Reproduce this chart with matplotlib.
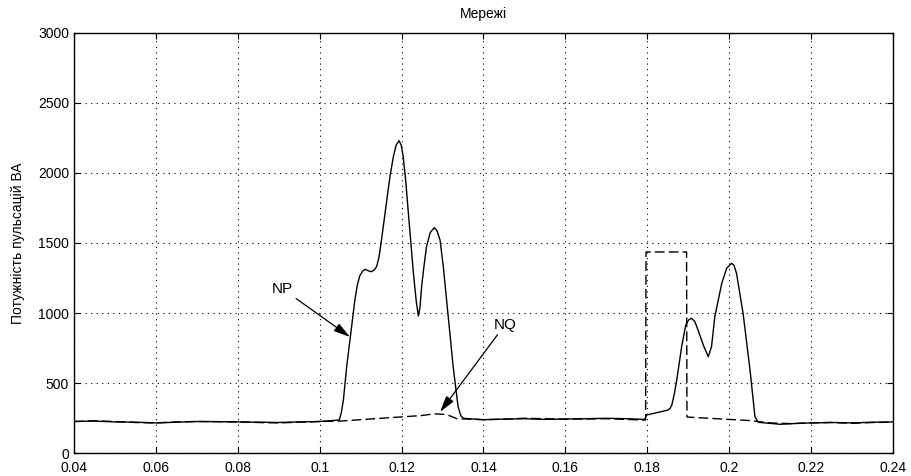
import matplotlib
matplotlib.use('Agg')
import matplotlib.pyplot as plt
from matplotlib.ticker import FormatStrFormatter

plt.rcParams['font.family'] = ['Liberation Sans', 'DejaVu Sans']

# NP (solid)
np_x = [0.04, 0.045, 0.05, 0.055, 0.06, 0.065, 0.07, 0.075, 0.08, 0.085, 0.09, 0.095,
        0.1, 0.1048, 0.1053, 0.1058, 0.1066, 0.1078, 0.1086, 0.1092, 0.1098, 0.1105,
        0.1111, 0.1120, 0.1127, 0.1134, 0.1139, 0.1145, 0.1151, 0.1164, 0.1172, 0.1180,
        0.1187, 0.1194, 0.1199, 0.1204, 0.1210, 0.1216, 0.1229, 0.1236, 0.1241, 0.1245,
        0.1249, 0.1255, 0.1261, 0.1270, 0.1280, 0.1287, 0.1294, 0.1302, 0.1310, 0.1326,
        0.1338, 0.1345, 0.1351, 0.14, 0.145, 0.15, 0.155, 0.16, 0.165, 0.17, 0.175,
        0.1794, 0.1798, 0.1851, 0.1856, 0.1860, 0.1866, 0.1872, 0.1884, 0.1894, 0.1901,
        0.1908, 0.1916, 0.1924, 0.1937, 0.1949, 0.1957, 0.1965, 0.1982, 0.1994, 0.2006,
        0.2012, 0.2018, 0.2034, 0.2051, 0.2063, 0.2071, 0.21, 0.2124, 0.217, 0.22,
        0.225, 0.23, 0.235, 0.24]
np_y = [225, 228, 222, 220, 215, 220, 225, 224, 222, 220, 218, 222,
        225, 236, 290, 379, 617, 902, 1093, 1200, 1265, 1300,
        1312, 1300, 1295, 1310, 1331, 1400, 1521, 1807, 1980, 2117,
        2200, 2231, 2200, 2117, 1950, 1736, 1283, 1080, 979, 1040,
        1188, 1340, 1474, 1575, 1610, 1585, 1521, 1330, 1093, 617,
        331, 265, 248, 238, 242, 245, 240, 243, 245, 248, 245,
        240, 271, 307, 320, 343, 420, 521, 759, 914, 950,
        962, 940, 879, 770, 688, 760, 974, 1212, 1320, 1355,
        1340, 1283, 998, 593, 259, 219, 212, 205, 212, 215,
        218, 215, 220, 222]

# NQ (dashed)
nq_x = [0.04, 0.045, 0.05, 0.055, 0.06, 0.065, 0.07, 0.075, 0.08, 0.085, 0.09, 0.095,
        0.1, 0.105, 0.11, 0.115, 0.12, 0.125, 0.128, 0.131, 0.1335, 0.14, 0.145, 0.15,
        0.155, 0.16, 0.165, 0.17, 0.175, 0.1796, 0.1797, 0.1896, 0.1897, 0.195, 0.2,
        0.205, 0.21, 0.215, 0.22, 0.225, 0.23, 0.235, 0.24]
nq_y = [225, 230, 225, 218, 215, 222, 225, 224, 222, 218, 215, 220,
        225, 228, 238, 248, 258, 268, 280, 275, 245, 238, 242, 248,
        245, 242, 243, 245, 240, 235, 1436, 1436, 257, 248, 240,
        232, 215, 210, 215, 218, 212, 218, 220]

x_ticks = [0.04, 0.06, 0.08, 0.1, 0.12, 0.14, 0.16, 0.18, 0.2, 0.22, 0.24]
y_ticks = [0, 500, 1000, 1500, 2000, 2500, 3000]

fig = plt.figure(figsize=(9.12, 4.76), dpi=100)
ax = fig.add_axes([0.0811, 0.0483, 0.8980, 0.8824])

ax.plot(np_x, np_y, color='black', lw=1.0)
ax.plot(nq_x, nq_y, color='black', lw=1.0, linestyle=(0, (7, 3)))

ax.set_xlim(0.04, 0.24)
ax.set_ylim(0, 3000)
ax.set_xticks(x_ticks)
ax.set_yticks(y_ticks)
ax.xaxis.set_major_formatter(FormatStrFormatter('%g'))
ax.grid(True, color='black', linestyle=(0, (1, 4)), lw=0.8)
ax.tick_params(direction='in', length=4, top=True, right=True, labelsize=10)
ax.tick_params(axis='x', pad=6)
for s in ax.spines.values():
    s.set_linewidth(1.0)

ax.set_title('Мережі', fontsize=10, pad=11)
ax.set_ylabel('Потужність пульсацій ВА', fontsize=10, labelpad=9)

arrow = dict(arrowstyle='-|>,head_length=0.9,head_width=0.25', color='black', lw=0.9,
             shrinkA=0, shrinkB=0)
ax.annotate('NP', xy=(0.1074, 829), xytext=(0.0910, 1171), fontsize=11,
            ha='center', va='center', arrowprops=arrow)
ax.annotate('NQ', xy=(0.1294, 293), xytext=(0.1452, 914), fontsize=11,
            ha='center', va='center', arrowprops=arrow)

fig.savefig('out.png', dpi=100)
